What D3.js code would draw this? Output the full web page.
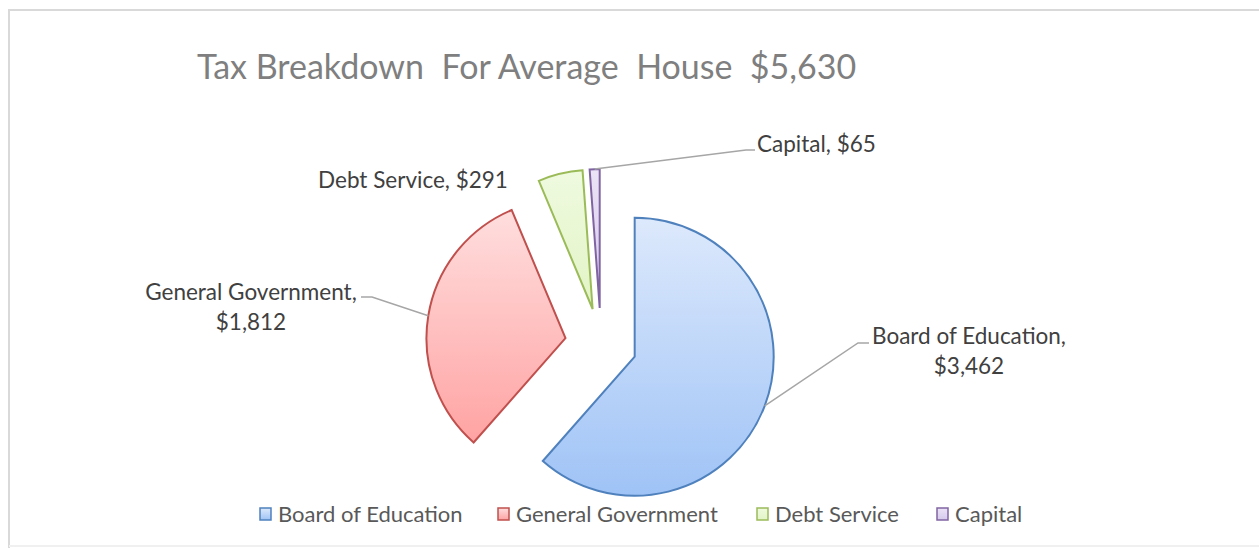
<!DOCTYPE html>
<html>
<head>
<meta charset="utf-8">
<script src="https://cdn.jsdelivr.net/npm/d3@7"></script>
<style>
  body { margin: 0; background: #fff; overflow: hidden; }
  svg { display: block; font-family: Lato, "Noto Sans", sans-serif; }
</style>
</head>
<body>
<svg id="chart" width="1259" height="548"></svg>
<script>

var categories = ['Board of Education', 'General Government', 'Debt Service', 'Capital'];
var values = [3462, 1812, 291, 65];
var total = 5630;
var titleText = 'Tax Breakdown  For Average  House  $';

var strokes = ['#4f81bd', '#c0504d', '#9bbb59', '#8064a2'];
var gradTop = ['#dde9fc', '#ffdede', '#effadf', '#ebe3f6'];
var gradBot = ['#9fc3f6', '#ffa3a3', '#e2f4c6', '#d6c9ec'];

// label placement (layout only)
var labelLayout = [
    { x: 969, y: 344, anchor: 'middle', leader: [[858, 343], [869, 343]] },
    { x: 251, y: 300, anchor: 'middle', leader: [[372, 297], [361, 297]] },
    { x: 413, y: 188, anchor: 'middle', leader: null },
    { x: 757, y: 152, anchor: 'start',  leader: [[746, 150], [755, 150]] }
];

var fmt = d3.format(',');
var cx = 601, cy = 344, radius = 139, explode = 36;

var svg = d3.select('#chart');

// chart area border (top + left strong, bottom faint)
svg.append('path')
    .attr('d', 'M9,548V10H1259')
    .attr('fill', 'none')
    .attr('stroke', '#d9d9d9')
    .attr('stroke-width', 2);
svg.append('path')
    .attr('d', 'M9,546H1259')
    .attr('fill', 'none')
    .attr('stroke', '#f0f0f0')
    .attr('stroke-width', 2);

var defs = svg.append('defs');
categories.forEach(function(c, i){
    var g = defs.append('linearGradient')
        .attr('id', 'grad' + i)
        .attr('x1', 0).attr('y1', 0).attr('x2', 0).attr('y2', 1);
    g.append('stop').attr('offset', '0%').attr('stop-color', gradTop[i]);
    g.append('stop').attr('offset', '100%').attr('stop-color', gradBot[i]);
});

svg.append('text')
    .attr('x', 197).attr('y', 79)
    .attr('fill', '#7f7f7f')
    .style('font-size', '34px')
    .style('white-space', 'pre')
    .text(titleText + fmt(total));

var pie = d3.pie().sort(null).value(function(d){ return d; });
var arcs = pie(values);
var arc = d3.arc().innerRadius(0).outerRadius(radius);

function offset(d){
    var m = (d.startAngle + d.endAngle) / 2;
    return [cx + explode * Math.sin(m), cy - explode * Math.cos(m)];
}

svg.selectAll('path.slice')
    .data(arcs)
    .enter().append('path')
    .attr('class', 'slice')
    .attr('transform', function(d){ var o = offset(d); return 'translate(' + o[0] + ',' + o[1] + ')'; })
    .attr('d', arc)
    .attr('fill', function(d, i){ return 'url(#grad' + i + ')'; })
    .attr('stroke', function(d, i){ return strokes[i]; })
    .attr('stroke-width', 2)
    .attr('stroke-linejoin', 'miter');

// leader lines
arcs.forEach(function(d, i){
    var L = labelLayout[i];
    if( !L.leader ) return;
    var o = offset(d);
    var m = (d.startAngle + d.endAngle) / 2;
    var p0 = [o[0] + radius * Math.sin(m), o[1] - radius * Math.cos(m)];
    svg.append('path')
        .attr('d', d3.line()([p0, L.leader[0], L.leader[1]]))
        .attr('fill', 'none')
        .attr('stroke', '#a6a6a6')
        .attr('stroke-width', 1.5);
});

// data labels
arcs.forEach(function(d, i){
    var L = labelLayout[i];
    var t = svg.append('text')
        .attr('x', L.x).attr('y', L.y)
        .attr('text-anchor', L.anchor)
        .attr('fill', '#404040')
        .style('font-size', '22.5px');
    if( i < 2 ){
        t.append('tspan').attr('x', L.x).text(categories[i] + ',');
        t.append('tspan').attr('x', L.x).attr('dy', 30).text('$' + fmt(values[i]));
    } else {
        t.text(categories[i] + ', $' + fmt(values[i]));
    }
});

// legend
var legendX = [260, 498, 757, 937];
var legend = svg.selectAll('g.legend')
    .data(categories)
    .enter().append('g')
    .attr('class', 'legend')
    .attr('transform', function(d, i){ return 'translate(' + legendX[i] + ',508)'; });

legend.append('rect')
    .attr('width', 11).attr('height', 12)
    .attr('fill', function(d, i){ return 'url(#grad' + i + ')'; })
    .attr('stroke', function(d, i){ return strokes[i]; })
    .attr('stroke-width', 1.5);

legend.append('text')
    .attr('x', 18).attr('y', 14)
    .attr('fill', '#595959')
    .style('font-size', '22px')
    .text(function(d){ return d; });

</script>
</body>
</html>
